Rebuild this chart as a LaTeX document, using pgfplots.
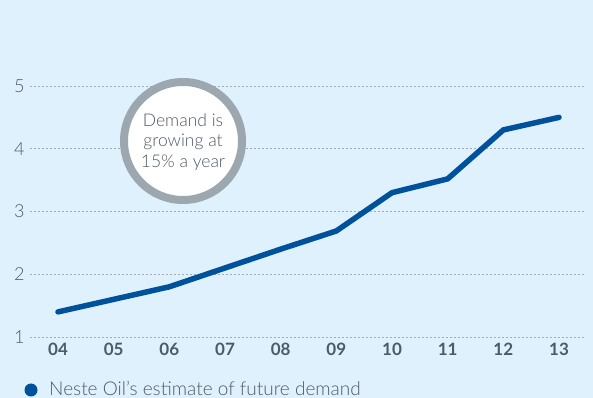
\documentclass[border=0pt]{standalone}
\usepackage{pgfplots}
\pgfplotsset{compat=1.18}
\usepackage{fontspec}
\setmainfont{Lato Light}
\newfontfamily\boldf{Lato Bold}
\definecolor{bg}{HTML}{DFF1FC}
\definecolor{lineblue}{HTML}{00519C}
\definecolor{ring}{HTML}{9DA7B0}
\definecolor{txt}{HTML}{505A64}
\definecolor{xlab}{HTML}{4A5B6A}
\definecolor{gridc}{HTML}{A4ACB3}
\begin{document}
\begin{tikzpicture}[x=1pt,y=1pt]
\fill[bg] (0,0) rectangle (593,398);
\begin{axis}[
  at={(30pt,61pt)}, anchor=south west,
  scale only axis, width=555pt, height=251pt,
  xmin=-0.503, xmax=9.467, ymin=1, ymax=5,
  axis line style={draw=none},
  major tick length=0pt,
  xtick={0,...,9},
  xticklabels={04,05,06,07,08,09,10,11,12,13},
  ytick={1,2,3,4,5},
  ymajorgrids, major grid style={gridc, dash pattern=on 1.5pt off 2.5pt, line width=0.6pt},
  /pgf/number format/assume math mode=true,
  yticklabel style={font=\fontsize{18}{18}\selectfont, text=txt, anchor=east, xshift=-2pt},
  xticklabel style={font=\boldf\fontsize{17}{17}\selectfont, text=xlab, anchor=north, yshift=-3pt},
  clip=false,
]
\addplot[lineblue, line width=5.5pt, line join=round, line cap=round] coordinates {
(0,1.40) (1,1.60) (2,1.80) (3,2.10) (4,2.40) (5,2.69) (6,3.30) (7,3.52) (8,4.30) (9,4.50)};
\end{axis}
\draw[ring, line width=8pt, fill=white] (183,257) circle (59);
\node[text=txt, align=center, font=\fontsize{17.5}{20.5}\selectfont] at (183,256) {Demand is\\growing at\\15\% a year};
\fill[lineblue] (31,8) circle (6.5);
\node[anchor=west, text=txt, font=\fontsize{19}{19}\selectfont, inner sep=0pt] at (49,9.5) {Neste Oil's estimate of future demand};
\end{tikzpicture}
\end{document}
